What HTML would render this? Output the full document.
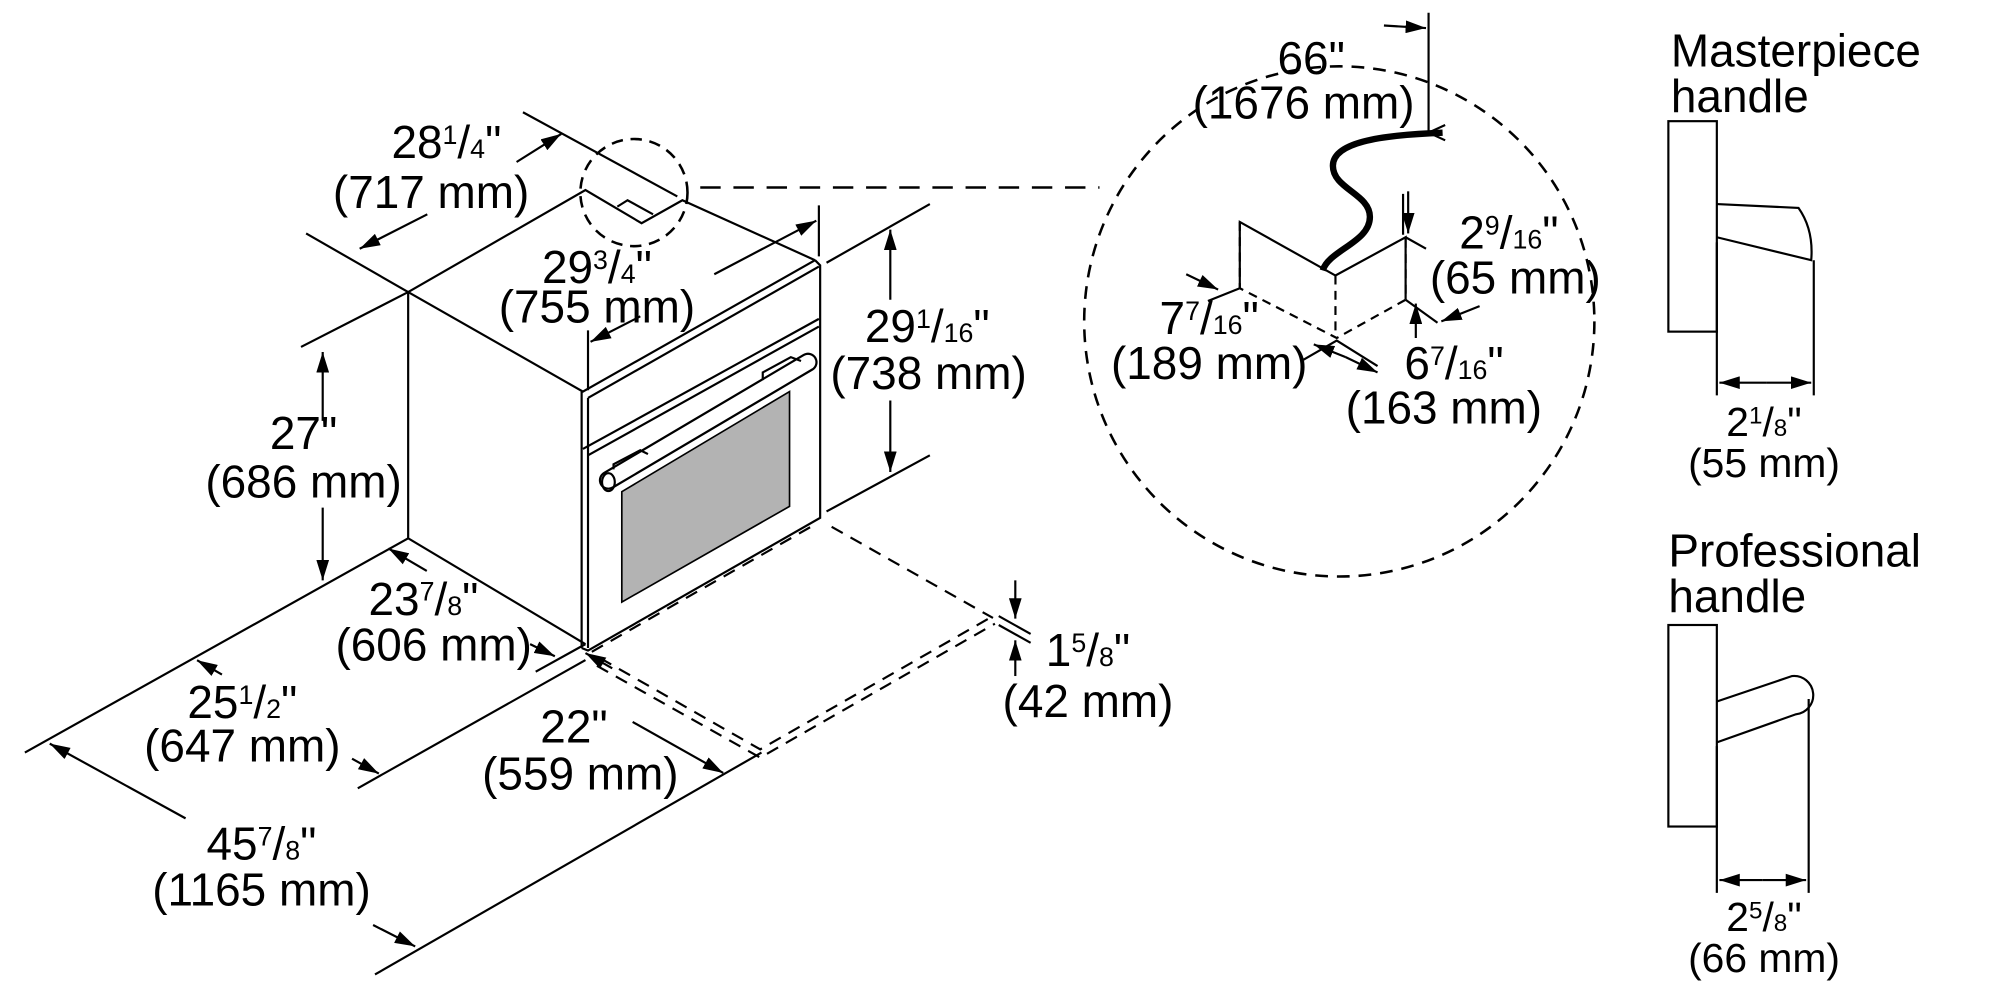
<!DOCTYPE html>
<html><head><meta charset="utf-8"><style>
html,body{margin:0;padding:0;background:#fff;}
svg{display:block;}
text{font-family:"Liberation Sans",Arial,sans-serif;font-size:36px;fill:#000;text-anchor:middle;}
.s{font-size:21px;}
.h{font-size:32px;}
.hs{font-size:19px;}
</style></head><body>
<svg width="2000" height="1000" viewBox="0 0 1568 784" xmlns="http://www.w3.org/2000/svg">
<defs>
<marker id="a" viewBox="0 0 16 10" refX="16" refY="5" markerWidth="16" markerHeight="10" markerUnits="userSpaceOnUse" orient="auto">
<path d="M0,0 L16,5 L0,10 Z" fill="#000"/></marker>
</defs>
<g fill="none" stroke="#000" stroke-width="1.7">
<path d="M320,229 L320,422 L459,505"/>
<path d="M320,229 L459,149 L503,175 L535,157 L639,204"/>
<path d="M484,162 L492,157 L512,168"/>
<path d="M320,229 L457,307 L639,204"/>
<path d="M461,312 L642,209"/>
<path d="M456,307 L456,508 M461,312 L461,508 M456,508 L461,510 L643,406 L643,208 L639,204"/>
<path d="M457,352 L642,250 M461,357 L642,256"/>
<path d="M487.5,385.5 L619,307 L619,397 L487.5,472 Z" fill="#b3b3b3" stroke-width="1.3"/>
<path d="M477,376.5 L633.5,284" stroke-width="15" stroke-linecap="round"/>
<path d="M477,376.5 L633.5,284" stroke="#fff" stroke-width="11.5" stroke-linecap="round"/>
<path d="M481,368 L481,364 L502,353 L508,356 M598,298 L598,292 L620,280 L628,283"/>
<ellipse cx="477" cy="378" rx="5" ry="7"/>
<g stroke-dasharray="10,7">
<path d="M464,511 L641,410"/>
<path d="M652,413 L778.5,484.5"/>
<path d="M470.5,516 L596,587.5 L778.5,483"/>
<path d="M468,522 L596,594 L780,489"/>
</g>
<circle cx="497" cy="151" r="42" stroke-dasharray="9,6" stroke-width="2"/>
<path d="M549,147 L862,147" stroke-dasharray="16,10" stroke-width="2"/>
<path d="M410,88 L531,154 M240,183 L320,229"/>
<path d="M405,127 L440,105" marker-end="url(#a)"/>
<path d="M335,168 L282,195" marker-end="url(#a)"/>
<path d="M461,259 L461,306 M642,161 L642,201"/>
<path d="M560,215 L640,173" marker-end="url(#a)"/>
<path d="M502,248 L463,268" marker-end="url(#a)"/>
<path d="M648,206 L729,160 M648,401 L729,357"/>
<path d="M698,235 L698,180" marker-end="url(#a)"/>
<path d="M698,314 L698,370" marker-end="url(#a)"/>
<path d="M236,272 L320,229"/>
<path d="M253,330 L253,276" marker-end="url(#a)"/>
<path d="M253,398 L253,455" marker-end="url(#a)"/>
<path d="M19.5,590 L320,422"/>
<path d="M280.5,618 L459,517.5"/>
<path d="M294,764 L597,590"/>
<path d="M420,526.6 L459,505"/>
<path d="M334.6,447.6 L304.5,430" marker-end="url(#a)"/>
<path d="M415.6,505 L435,514.5" marker-end="url(#a)"/>
<path d="M174,528.9 L154.5,517.6" marker-end="url(#a)"/>
<path d="M276,594.8 L297,606.5" marker-end="url(#a)"/>
<path d="M145.5,641.6 L39,583" marker-end="url(#a)"/>
<path d="M292.5,725.2 L325.5,742" marker-end="url(#a)"/>
<path d="M480,524 L459,512" marker-end="url(#a)"/>
<path d="M496,566 L567,606" marker-end="url(#a)"/>
<path d="M783,483 L808,497 M783,490 L808,504"/>
<path d="M796,455 L796,485" marker-end="url(#a)"/>
<path d="M796,530 L796,502" marker-end="url(#a)"/>
<circle cx="1050" cy="252" r="200" stroke-dasharray="10,7" stroke-width="2"/>
<path d="M972,226 L972,174 L1047,216 L1102,186 L1102,235" />
<g stroke-dasharray="7,5"><path d="M972,174 L972,226 L1048,265 L1102,235 L1102,186 M1047,216 L1047,265"/></g>
<path d="M1037,212 C1042,196 1074,190 1074,170 C1074,152 1045,148 1045,130 C1045,112 1080,106 1131,104" stroke-width="5"/>
<path d="M1120,10 L1120,104 M1120,104 L1133,98 M1120,104 L1133,110"/>
<path d="M1085,20 L1118,22" marker-end="url(#a)"/>
<path d="M1100,152 L1100,184 M1102,186 L1118,195"/>
<path d="M1104,150 L1104,183" marker-end="url(#a)"/>
<path d="M1102,235 L1127,253"/>
<path d="M1110,265 L1110,238" marker-end="url(#a)"/>
<path d="M1160,240 L1130,252" marker-end="url(#a)"/>
<path d="M947,236 L972,226"/>
<path d="M930,215 L955,227" marker-end="url(#a)"/>
<path d="M1022,282 L1048,267 L1080,287"/>
<path d="M1055,280 L1030,270" marker-end="url(#a)"/>
<path d="M1055,280 L1080,292" marker-end="url(#a)"/>
<rect x="1308" y="95" width="38" height="165"/>
<path d="M1346,160 L1410,163 Q1422,180 1420,204 L1346,186"/>
<path d="M1346,190 L1346,310 M1422,204 L1422,310"/>
<path d="M1385,300 L1348,300" marker-end="url(#a)"/>
<path d="M1385,300 L1420,300" marker-end="url(#a)"/>
<rect x="1308" y="490" width="38" height="158"/>
<path d="M1346,550 L1405,530 A15,15 0 0 1 1408,560 L1346,582"/>
<path d="M1346,585 L1346,700 M1418,548 L1418,700"/>
<path d="M1382,690 L1348,690" marker-end="url(#a)"/>
<path d="M1382,690 L1416,690" marker-end="url(#a)"/>
</g>
<text x="350" y="124">28<tspan class="s" dy="-11">1</tspan><tspan dy="11">/</tspan><tspan class="s">4</tspan>"</text>
<text x="338" y="163">(717 mm)</text>
<text x="468" y="222">29<tspan class="s" dy="-11">3</tspan><tspan dy="11">/</tspan><tspan class="s">4</tspan>"</text>
<text x="468" y="253">(755 mm)</text>
<text x="727" y="268">29<tspan class="s" dy="-11">1</tspan><tspan dy="11">/</tspan><tspan class="s">16</tspan>"</text>
<text x="728" y="305">(738 mm)</text>
<text x="238" y="352">27"</text>
<text x="238" y="390">(686 mm)</text>
<text x="332" y="482">23<tspan class="s" dy="-11">7</tspan><tspan dy="11">/</tspan><tspan class="s">8</tspan>"</text>
<text x="340" y="518">(606 mm)</text>
<text x="190" y="563">25<tspan class="s" dy="-11">1</tspan><tspan dy="11">/</tspan><tspan class="s">2</tspan>"</text>
<text x="190" y="597">(647 mm)</text>
<text x="450" y="582">22"</text>
<text x="455" y="619">(559 mm)</text>
<text x="205" y="674">45<tspan class="s" dy="-11">7</tspan><tspan dy="11">/</tspan><tspan class="s">8</tspan>"</text>
<text x="205" y="710">(1165 mm)</text>
<text x="853" y="522">1<tspan class="s" dy="-11">5</tspan><tspan dy="11">/</tspan><tspan class="s">8</tspan>"</text>
<text x="853" y="562">(42 mm)</text>
<text x="1028" y="58">66"</text>
<text x="1022" y="93">(1676 mm)</text>
<text x="1183" y="195">2<tspan class="s" dy="-11">9</tspan><tspan dy="11">/</tspan><tspan class="s">16</tspan>"</text>
<text x="1188" y="230">(65 mm)</text>
<text x="948" y="262">7<tspan class="s" dy="-11">7</tspan><tspan dy="11">/</tspan><tspan class="s">16</tspan>"</text>
<text x="948" y="297">(189 mm)</text>
<text x="1140" y="297">6<tspan class="s" dy="-11">7</tspan><tspan dy="11">/</tspan><tspan class="s">16</tspan>"</text>
<text x="1132" y="332">(163 mm)</text>
<text x="1310" y="52" style="text-anchor:start">Masterpiece</text>
<text x="1310" y="88" style="text-anchor:start">handle</text>
<text x="1383" y="342" class="h">2<tspan class="hs" dy="-10">1</tspan><tspan dy="10">/</tspan><tspan class="hs">8</tspan>"</text>
<text x="1383" y="374" class="h">(55 mm)</text>
<text x="1308" y="444" style="text-anchor:start">Professional</text>
<text x="1308" y="480" style="text-anchor:start">handle</text>
<text x="1383" y="730" class="h">2<tspan class="hs" dy="-10">5</tspan><tspan dy="10">/</tspan><tspan class="hs">8</tspan>"</text>
<text x="1383" y="762" class="h">(66 mm)</text>
</svg>
</body></html>
